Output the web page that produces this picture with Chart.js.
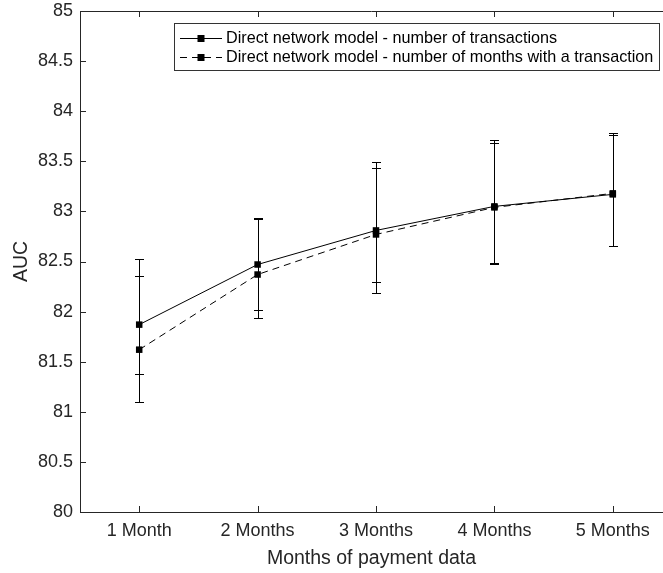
<!DOCTYPE html>
<html>
<head>
<meta charset="utf-8">
<script src="https://cdn.jsdelivr.net/npm/chart.js@4.4.1/dist/chart.umd.min.js"></script>
<style>
html, body { margin: 0; padding: 0; background: #fff; overflow: hidden; }
</style>
</head>
<body>
<canvas id="auc" width="663" height="573"></canvas>
<script>
// categories and values
const months = ['1 Month', '2 Months', '3 Months', '4 Months', '5 Months'];
const positions = [1, 2, 3, 4, 5];

const txLabel = 'Direct network model - number of transactions';
const txMean = [81.87, 82.47, 82.81, 83.05, 83.17];
const txHigh = [82.36, 82.93, 83.43, 83.68, 83.76];
const txLow  = [81.38, 82.02, 82.19, 82.48, 82.65];

const monLabel = 'Direct network model - number of months with a transaction';
const monMean = [81.62, 82.37, 82.77, 83.04, 83.18];
const monHigh = [82.52, 82.92, 83.49, 83.71, 83.78];
const monLow  = [81.10, 81.94, 82.30, 82.49, 82.65];

const axisColor = '#262626';
const font = 'Liberation Sans, Arial, sans-serif';

// error bars, drawn under the markers
const errorBars = {
  id: 'errorBars',
  beforeDatasetsDraw(chart) {
    const ctx = chart.ctx;
    const x = chart.scales.x, y = chart.scales.y;
    ctx.save();
    ctx.strokeStyle = '#000';
    ctx.lineWidth = 1;
    [[txLow, txHigh], [monLow, monHigh]].forEach(function (pair) {
      positions.forEach(function (p, i) {
        const px = Math.round(x.getPixelForValue(p)) + 0.5;
        const yl = Math.round(y.getPixelForValue(pair[0][i])) + 0.5;
        const yh = Math.round(y.getPixelForValue(pair[1][i])) + 0.5;
        ctx.beginPath();
        ctx.moveTo(px, yl); ctx.lineTo(px, yh);
        ctx.moveTo(px - 4.5, yl); ctx.lineTo(px + 4.5, yl);
        ctx.moveTo(px - 4.5, yh); ctx.lineTo(px + 4.5, yh);
        ctx.stroke();
      });
    });
    ctx.restore();
  }
};

// box top line, inward ticks and legend
const frame = {
  id: 'frame',
  afterDraw(chart) {
    const ctx = chart.ctx;
    const a = chart.chartArea;
    const x = chart.scales.x, y = chart.scales.y;
    ctx.save();
    ctx.strokeStyle = axisColor;
    ctx.lineWidth = 1;
    ctx.beginPath();
    ctx.moveTo(a.left, a.top + 0.5); ctx.lineTo(chart.width, a.top + 0.5);
    positions.forEach(function (p) {
      const px = Math.round(x.getPixelForValue(p)) + 0.5;
      ctx.moveTo(px, a.bottom); ctx.lineTo(px, a.bottom - 6);
      ctx.moveTo(px, a.top); ctx.lineTo(px, a.top + 6);
    });
    y.ticks.forEach(function (t) {
      const py = Math.round(y.getPixelForValue(t.value)) + 0.5;
      ctx.moveTo(a.left, py); ctx.lineTo(a.left + 6, py);
    });
    ctx.stroke();

    // legend
    const bx = 174.5, by = 23.5, bw = 485, bh = 47;
    ctx.fillStyle = '#fff';
    ctx.fillRect(bx, by, bw, bh);
    ctx.strokeStyle = '#333';
    ctx.strokeRect(bx, by, bw, bh);
    const rows = [
      { label: txLabel, dash: [], yy: 38 },
      { label: monLabel, dash: [7, 5], yy: 57 }
    ];
    ctx.font = '16.2px ' + font;
    ctx.textBaseline = 'middle';
    rows.forEach(function (r) {
      ctx.strokeStyle = '#000';
      ctx.setLineDash(r.dash);
      ctx.beginPath();
      ctx.moveTo(180, r.yy + 0.5); ctx.lineTo(222, r.yy + 0.5);
      ctx.stroke();
      ctx.setLineDash([]);
      ctx.fillStyle = '#000';
      ctx.fillRect(197.5, r.yy - 3, 7, 7);
      ctx.fillText(r.label, 226, r.yy + 1);
    });
    ctx.restore();
  }
};

function series(label, values, dash) {
  return {
    label: label,
    data: values.map(function (v, i) { return { x: positions[i], y: v }; }),
    borderColor: '#000',
    backgroundColor: '#000',
    borderWidth: 1,
    borderDash: dash,
    pointStyle: 'rect',
    pointRadius: 4.6,
    pointBorderWidth: 0,
    pointBackgroundColor: '#000',
    tension: 0
  };
}

new Chart(document.getElementById('auc').getContext('2d'), {
  type: 'line',
  data: {
    datasets: [
      series(txLabel, txMean, []),
      series(monLabel, monMean, [7, 5])
    ]
  },
  options: {
    responsive: false,
    animation: false,
    devicePixelRatio: 1,
    layout: { autoPadding: false, padding: { top: 11, right: 0, left: 0, bottom: 0 } },
    plugins: { legend: { display: false }, tooltip: { enabled: false } },
    scales: {
      x: {
        type: 'linear',
        min: 0.5,
        max: 5.424,
        afterBuildTicks: function (s) { s.ticks = positions.map(function (p) { return { value: p }; }); },
        afterFit: function (s) { s.height = 61; s.paddingLeft = 0; s.paddingRight = 0; },
        grid: { display: false, drawTicks: false },
        border: { display: true, color: axisColor, width: 1 },
        ticks: {
          padding: 8,
          color: axisColor,
          font: { family: font, size: 18 },
          maxRotation: 0,
          callback: function (v) { return months[v - 1]; }
        },
        title: {
          display: true,
          text: 'Months of payment data',
          color: axisColor,
          font: { family: font, size: 19.5 },
          padding: { top: 0, bottom: 3 }
        }
      },
      y: {
        min: 80,
        max: 85,
        afterFit: function (s) { s.width = 80; s.paddingTop = 0; s.paddingBottom = 0; },
        grid: { display: false, drawTicks: false },
        border: { display: true, color: axisColor, width: 1 },
        ticks: {
          stepSize: 0.5,
          padding: 7,
          color: axisColor,
          font: { family: font, size: 18 },
          callback: function (v) { return String(Math.round(v * 10) / 10); }
        },
        title: {
          display: true,
          text: 'AUC',
          color: axisColor,
          font: { family: font, size: 19.5 },
          padding: { top: 10, bottom: 0 }
        }
      }
    }
  },
  plugins: [errorBars, frame]
});
</script>
</body>
</html>
